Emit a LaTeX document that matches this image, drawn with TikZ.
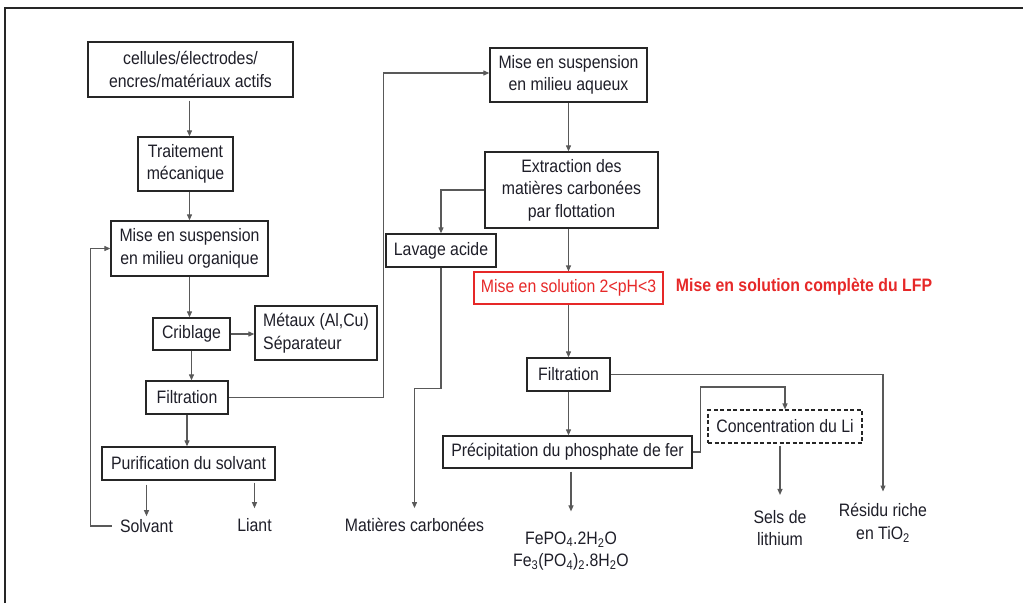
\documentclass[tikz,border=0pt]{standalone}
\usepackage{fontspec}
\setmainfont{Liberation Sans}[FakeStretch=0.88]
\usetikzlibrary{arrows.meta}
\definecolor{redc}{RGB}{230,40,40}
\definecolor{txt}{RGB}{30,30,40}
\begin{document}
\begin{tikzpicture}[x=1pt,y=-1pt,
  box/.style={draw=black!85, line width=1.3pt, inner sep=0pt, align=center, text=txt, font=\fontsize{18}{22.5}\selectfont},
  lbl/.style={inner sep=0pt, align=center, text=txt, font=\fontsize{18}{22.5}\selectfont},
  conn/.style={draw=black!65, line width=1.1pt, -{Triangle[length=6pt,width=5pt]}},
  plain/.style={draw=black!65, line width=1.1pt}]
\useasboundingbox (0,0) rectangle (1023,603);
\draw[black!85, line width=1.5pt] (5,603) -- (5,8) -- (1023,8);

% left column
\node[box, minimum width=205pt, minimum height=55pt] (cell) at (190.5,69.5) {cellules/électrodes/\\encres/matériaux actifs};
\node[box, minimum width=95pt, minimum height=54pt] (trait) at (185.5,164) {Traitement\\mécanique};
\node[box, minimum width=157pt, minimum height=55pt] (org) at (189.5,248.5) {Mise en suspension\\en milieu organique};
\node[box, minimum width=77pt, minimum height=32pt] (crib) at (191.5,334) {Criblage};
\node[box, minimum width=122pt, minimum height=54pt, align=left] (met) at (316,333) {Métaux (Al,Cu)\\Séparateur};
\node[box, minimum width=82pt, minimum height=33pt] (filtA) at (187,397.5) {Filtration};
\node[box, minimum width=173pt, minimum height=33pt] (purif) at (188.5,463.5) {Purification du solvant};
\node[lbl] (solv) at (146.5,526) {Solvant};
\node[lbl] (liant) at (254.5,525) {Liant};

% middle column
\node[box, minimum width=157pt, minimum height=54pt] (aq) at (568.5,75) {Mise en suspension\\en milieu aqueux};
\node[box, minimum width=173pt, minimum height=76pt] (extr) at (571.5,190) {Extraction des\\matières carbonées\\par flottation};
\node[box, minimum width=110pt, minimum height=33pt] (lav) at (441,250.5) {Lavage acide};
\node[lbl] (mat) at (414.5,525) {Matières carbonées};
\node[box, draw=redc, line width=1.1pt, text=redc, minimum width=189pt, minimum height=32pt] (red) at (568.5,288) {Mise en solution 2<pH<3};
\node[lbl, text=redc, font=\fontsize{18}{22.5}\selectfont\bfseries] (redlbl) at (804,287) {Mise en solution complète du LFP};
\node[box, minimum width=83pt, minimum height=33pt] (filtB) at (568.5,374.5) {Filtration};
\node[box, minimum width=249pt, minimum height=32pt] (prec) at (567.5,452) {Précipitation du phosphate de fer};
\node[lbl] (fe) at (571,551) {FePO\textsubscript{4}.2H\textsubscript{2}O\\Fe\textsubscript{3}(PO\textsubscript{4})\textsubscript{2}.8H\textsubscript{2}O};

% right column
\node[box, dashed, dash pattern=on 4pt off 2.5pt, line width=1.1pt, minimum width=154pt, minimum height=33pt] (conc) at (785,426.5) {Concentration du Li};
\node[lbl] (sels) at (780,528) {Sels de\\lithium};
\node[lbl] (res) at (883,523) {Résidu riche\\en TiO\textsubscript{2}};

% connectors
\draw[conn, shorten <=3pt] (cell.south -| org.north) -- (trait.north -| org.north);
\draw[conn] (trait.south -| org.north) -- (org.north);
\draw[conn] (org.south) -- (org.south |- crib.north);
\draw[conn] (crib.south) -- (crib.south |- filtA.north);
\draw[conn] (crib.east) -- (crib.east -| met.west);
\draw[conn] (filtA.south) -- (filtA.south |- purif.north);
\draw[conn, shorten <=4pt, shorten >=3pt] (solv.north |- purif.south) -- (solv.north);
\draw[conn, shorten <=2pt, shorten >=10pt] (liant.north |- purif.south) -- (liant.north);
\draw[conn] ([xshift=-8pt]solv.west) -- ++(-21,0) |- (org.west);
\draw[conn] (filtA.east) -- ++(155,0) |- ([yshift=2pt]aq.west);

\draw[conn] (aq.south) -- (aq.south |- extr.north);
\draw[conn] (extr.west) -| (lav.north);
\draw[conn] (red.north |- extr.south) -- (red.north);
\draw[conn, shorten >=10pt] (lav.south) -- ++(0,121) -| (mat.north);
\draw[conn] (red.south) -- (filtB.north);
\draw[conn] (filtB.south) -- (filtB.south |- prec.north);
\draw[conn, shorten <=3pt, shorten >=20pt] (fe.north |- prec.south) -- (fe.north);
\draw[conn, shorten >=12pt] (filtB.east) -| (res.north);
\draw[conn] (prec.east) -- ++(8,0) -- ++(0,-65) -| (conc.north);
\draw[conn, shorten <=2pt, shorten >=15pt] (sels.north |- conc.south) -- (sels.north);
\end{tikzpicture}
\end{document}
